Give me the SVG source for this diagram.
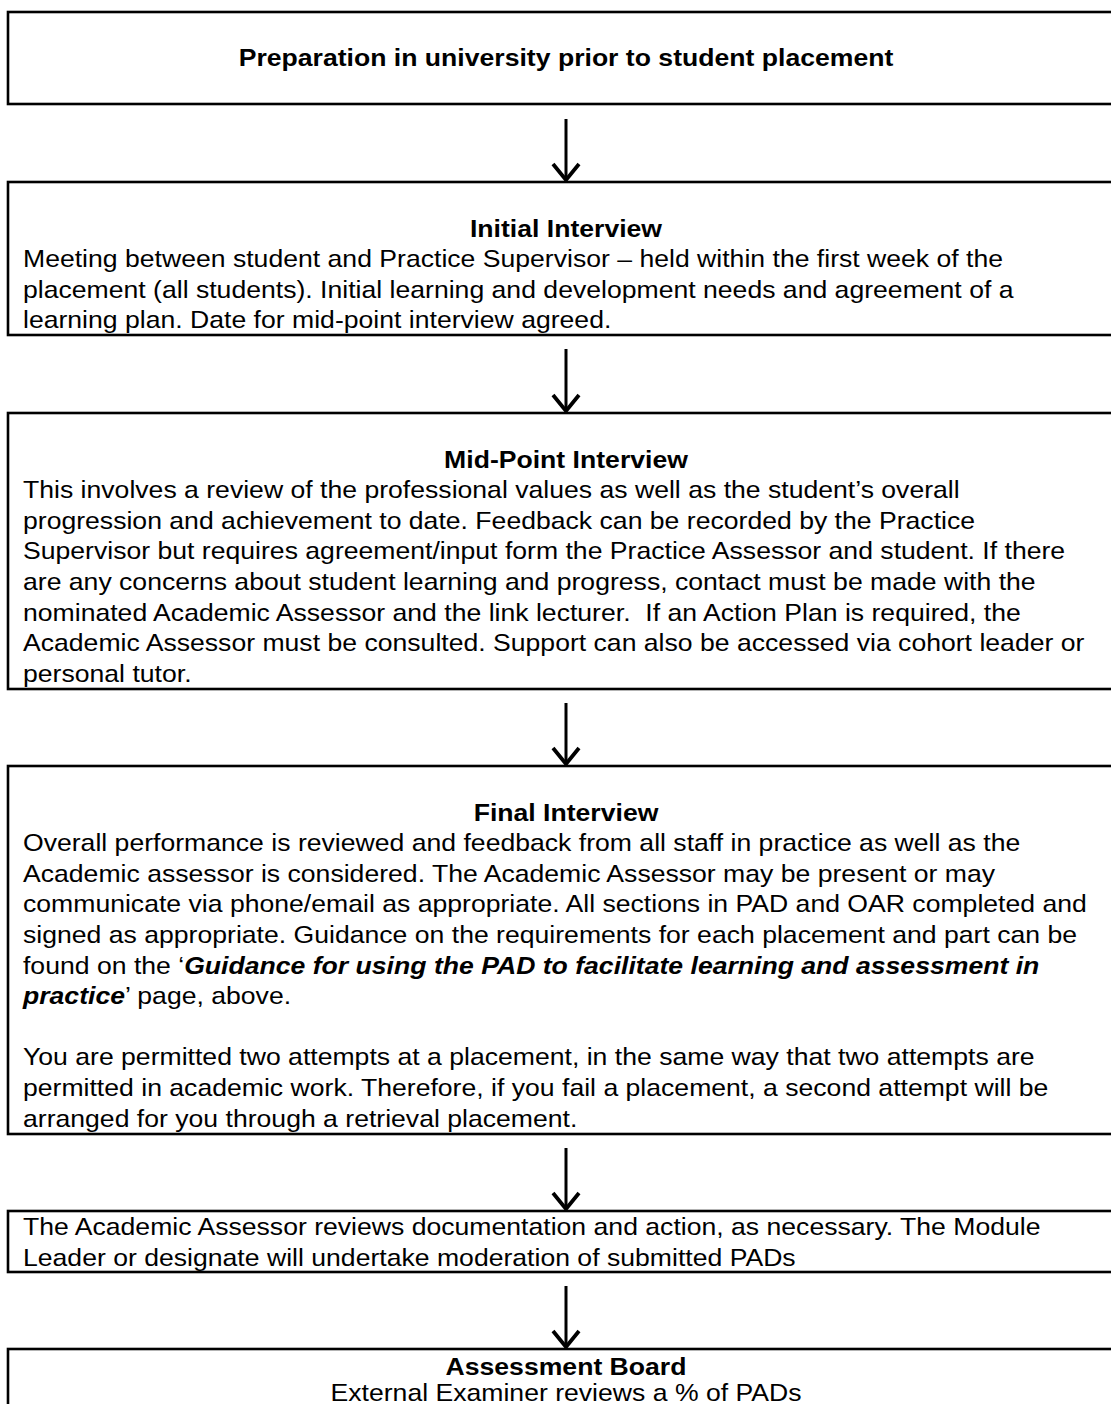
<svg xmlns="http://www.w3.org/2000/svg" width="1111" height="1404" viewBox="0 0 1111 1404">
<style>
.box{fill:#fff;stroke:#000;stroke-width:2.6}
.t{font-family:"Liberation Sans",Arial,sans-serif;font-size:24px;fill:#000}
.b{font-weight:bold}
.c{text-anchor:middle}
.bi{font-weight:bold;font-style:italic}
.con{stroke:#000;stroke-width:3;fill:none}
</style>
<defs>
<marker id="ah" markerUnits="userSpaceOnUse" markerWidth="24" markerHeight="30" refX="19" refY="15" orient="auto" viewBox="0 0 24 30">
<polyline points="3,2 19,15 3,28" fill="none" stroke="#000" stroke-width="3.8" stroke-linejoin="miter"/>
</marker>
</defs>
<rect width="1111" height="1404" fill="#fff"/>
<g id="connectors">
<line class="con" x1="566" y1="119" x2="566" y2="180" marker-end="url(#ah)"/>
<line class="con" x1="566" y1="349" x2="566" y2="411" marker-end="url(#ah)"/>
<line class="con" x1="566" y1="703" x2="566" y2="764" marker-end="url(#ah)"/>
<line class="con" x1="566" y1="1148" x2="566" y2="1209" marker-end="url(#ah)"/>
<line class="con" x1="566" y1="1286" x2="566" y2="1347" marker-end="url(#ah)"/>
</g>
<g id="n1">
<rect class="box" x="8" y="12" width="1120" height="92"/>
<g transform="scale(1.1083,1)">
<text class="t b c" x="510.7" y="66.5">Preparation in university prior to student placement</text>
</g>
</g>
<g id="n2">
<rect class="box" x="8" y="182" width="1120" height="153"/>
<g transform="scale(1.1083,1)">
<text class="t b c" x="510.7" y="236.6">Initial Interview</text>
<text class="t" x="20.75" y="267.2">Meeting between student and Practice Supervisor – held within the first week of the</text>
<text class="t" x="20.75" y="297.8">placement (all students). Initial learning and development needs and agreement of a</text>
<text class="t" x="20.75" y="328.4">learning plan. Date for mid-point interview agreed.</text>
</g>
</g>
<g id="n3">
<rect class="box" x="8" y="413" width="1120" height="276"/>
<g transform="scale(1.1083,1)">
<text class="t b c" x="510.7" y="467.6">Mid-Point Interview</text>
<text class="t" x="20.75" y="498.2">This involves a review of the professional values as well as the student’s overall</text>
<text class="t" x="20.75" y="528.8">progression and achievement to date. Feedback can be recorded by the Practice</text>
<text class="t" x="20.75" y="559.4">Supervisor but requires agreement/input form the Practice Assessor and student. If there</text>
<text class="t" x="20.75" y="590">are any concerns about student learning and progress, contact must be made with the</text>
<text class="t" x="20.75" y="620.6" xml:space="preserve">nominated Academic Assessor and the link lecturer.  If an Action Plan is required, the</text>
<text class="t" x="20.75" y="651.2">Academic Assessor must be consulted. Support can also be accessed via cohort leader or</text>
<text class="t" x="20.75" y="681.8">personal tutor.</text>
</g>
</g>
<g id="n4">
<rect class="box" x="8" y="766" width="1120" height="368"/>
<g transform="scale(1.1083,1)">
<text class="t b c" x="510.7" y="820.6">Final Interview</text>
<text class="t" x="20.75" y="851.2">Overall performance is reviewed and feedback from all staff in practice as well as the</text>
<text class="t" x="20.75" y="881.8">Academic assessor is considered. The Academic Assessor may be present or may</text>
<text class="t" x="20.75" y="912.4">communicate via phone/email as appropriate. All sections in PAD and OAR completed and</text>
<text class="t" x="20.75" y="943">signed as appropriate. Guidance on the requirements for each placement and part can be</text>
<text class="t" x="20.75" y="973.6">found on the ‘<tspan class="bi">Guidance for using the PAD to facilitate learning and assessment in</tspan></text>
<text class="t" x="20.75" y="1004.2"><tspan class="bi">practice</tspan>’ page, above.</text>
<text class="t" x="20.75" y="1065.4">You are permitted two attempts at a placement, in the same way that two attempts are</text>
<text class="t" x="20.75" y="1096">permitted in academic work. Therefore, if you fail a placement, a second attempt will be</text>
<text class="t" x="20.75" y="1126.6">arranged for you through a retrieval placement.</text>
</g>
</g>
<g id="n5">
<rect class="box" x="8" y="1211" width="1120" height="61"/>
<g transform="scale(1.1083,1)">
<text class="t" x="20.75" y="1235.5">The Academic Assessor reviews documentation and action, as necessary. The Module</text>
<text class="t" x="20.75" y="1266">Leader or designate will undertake moderation of submitted PADs</text>
</g>
</g>
<g id="n6">
<rect class="box" x="8" y="1349" width="1120" height="80"/>
<g transform="scale(1.1083,1)">
<text class="t b c" x="510.7" y="1375">Assessment Board</text>
<text class="t c" x="510.7" y="1401.5">External Examiner reviews a % of PADs</text>
</g>
</g>
</svg>
